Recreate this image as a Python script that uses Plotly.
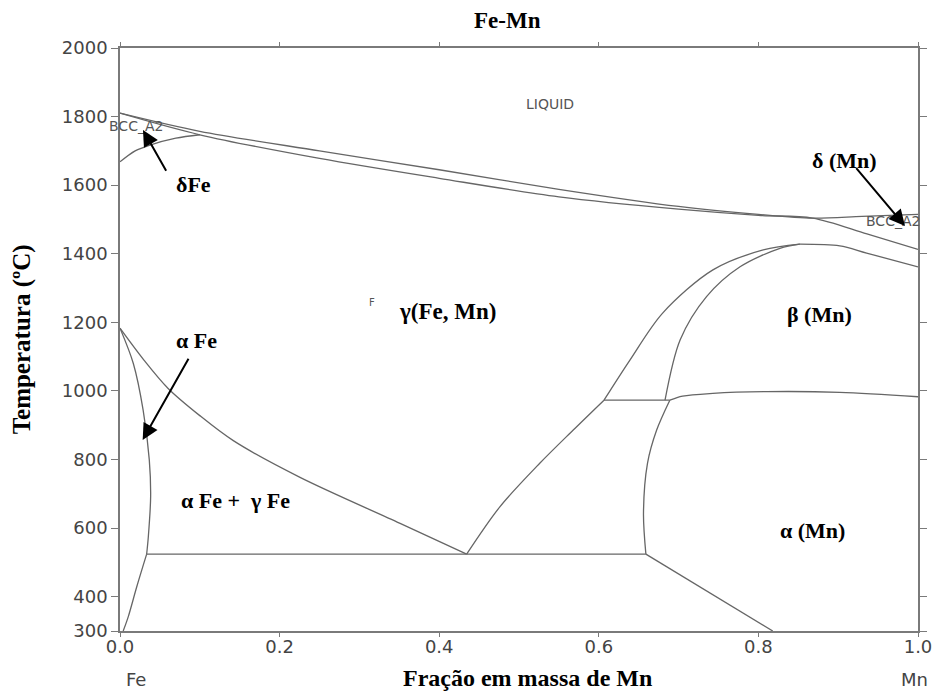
import plotly.graph_objects as go

# ---- data: phase boundaries (mass fraction Mn, temperature in C) ----
liquidus_x = [0.0, 0.1, 0.25, 0.4, 0.55, 0.7, 0.8, 0.868, 0.93, 1.0]
liquidus_T = [1810, 1757, 1700, 1645, 1588, 1538, 1515, 1504, 1509, 1515]

solidus_x = [0.0, 0.1, 0.25, 0.4, 0.55, 0.7, 0.8, 0.868, 0.936, 1.0]
solidus_T = [1810, 1747, 1678, 1620, 1566, 1530, 1512, 1504, 1458, 1413]

delta_x = [0.0, 0.019, 0.0376, 0.07, 0.1]
delta_T = [1668, 1700, 1717, 1737, 1747]

a3_x = [0.0, 0.03, 0.06, 0.1, 0.142, 0.2256, 0.351, 0.4344]
a3_T = [1183, 1090, 1008, 928, 855, 748, 614, 524]

alphaFe_x = [0.0, 0.0167, 0.029, 0.0367, 0.0384, 0.0355, 0.0334]
alphaFe_T = [1183, 1080, 944, 799, 692, 575, 524]

lowFe_x = [0.0334, 0.021, 0.0104, 0.004]
lowFe_T = [524, 429, 342, 300]

eutectoid_x = [0.0334, 0.659]
eutectoid_T = [524, 524]

gamma_aMn_x = [0.4344, 0.476, 0.526, 0.568, 0.6065]
gamma_aMn_T = [524, 662, 789, 886, 973]

h973_x = [0.6065, 0.689]
h973_T = [973, 973]

dome_outer_x = [0.6065, 0.639, 0.680, 0.743, 0.806, 0.852]
dome_outer_T = [973, 1090, 1227, 1353, 1411, 1428]

dome_inner_x = [0.683, 0.702, 0.735, 0.777, 0.827, 0.852]
dome_inner_T = [973, 1149, 1275, 1362, 1416, 1428]

dome_right_x = [0.852, 0.902, 0.9356, 1.0]
dome_right_T = [1428, 1423, 1402, 1362]

beta_aMn_x = [0.689, 0.705, 0.743, 0.81, 0.902, 1.0]
beta_aMn_T = [973, 985, 993, 998, 996, 983]

aMn_left_x = [0.689, 0.6725, 0.661, 0.656, 0.659]
aMn_left_T = [973, 886, 789, 643, 524]

aMn_low_x = [0.659, 0.818]
aMn_low_T = [524, 300]

x_ticks = [0.0, 0.2, 0.4, 0.6, 0.8, 1.0]
y_ticks = [300, 400, 600, 800, 1000, 1200, 1400, 1600, 1800, 2000]

curves = [
    (liquidus_x, liquidus_T), (solidus_x, solidus_T), (delta_x, delta_T),
    (a3_x, a3_T), (alphaFe_x, alphaFe_T), (lowFe_x, lowFe_T),
    (eutectoid_x, eutectoid_T), (gamma_aMn_x, gamma_aMn_T), (h973_x, h973_T),
    (dome_outer_x, dome_outer_T), (dome_inner_x, dome_inner_T),
    (dome_right_x, dome_right_T), (beta_aMn_x, beta_aMn_T),
    (aMn_left_x, aMn_left_T), (aMn_low_x, aMn_low_T),
]

fig = go.Figure()
for cx, cy in curves:
    fig.add_trace(go.Scatter(x=cx, y=cy, mode="lines",
                             line=dict(color="#666666", width=1.3, shape="spline", smoothing=0.9),
                             hoverinfo="skip", showlegend=False))

SERIF = "Liberation Serif, Times New Roman, serif"
SANS = "DejaVu Sans, Arial, sans-serif"

def label(x, y, text, size=22, color="black", family=SERIF, bold=True, ref="data", angle=0):
    t = f"<b>{text}</b>" if bold else text
    r = "" if ref == "data" else " domain"
    fig.add_annotation(x=x, y=y, xref="x" + r, yref="y" + r, text=t, showarrow=False,
                       xanchor="center", yanchor="middle", textangle=angle,
                       font=dict(family=family, size=size, color=color))

def arrow(x0, y0, x1, y1):
    fig.add_annotation(x=x1, y=y1, ax=x0, ay=y0, xref="x", yref="y", axref="x", ayref="y",
                       text="", showarrow=True, arrowhead=2, arrowsize=1.6, arrowwidth=2,
                       arrowcolor="black")

label(0.539, 1837, "LIQUID", size=14, color="#555", family=SANS, bold=False)
label(0.0198, 1772, "BCC_A2", size=14, color="#555", family=SANS, bold=False)
label(0.9687, 1497, "BCC_A2", size=14, color="#555", family=SANS, bold=False)
label(0.3154, 1257, "F", size=10, color="#555", family=SANS, bold=False)

label(0.0927, 1603, "δFe")
arrow(0.0589, 1638, 0.0288, 1761)
label(0.908, 1673, "δ (Mn)")
arrow(0.921, 1654, 0.9837, 1481)
label(0.0961, 1146, "α Fe")
arrow(0.0869, 1098, 0.0284, 857)
label(0.411, 1233, "γ(Fe, Mn)", size=23)
label(0.877, 1224, "β (Mn)")
label(0.1451, 680, "α Fe +  γ Fe")
label(0.868, 592, "α (Mn)")

label(0.511, -0.081, "Fração em massa de Mn", size=24, ref="paper")
label(0.02, -0.083, "Fe", size=18, color="#444", family=SANS, bold=False, ref="paper")
label(0.995, -0.083, "Mn", size=18, color="#444", family=SANS, bold=False, ref="paper")
label(0.485, 1.047, "Fe-Mn", size=23, ref="paper")
label(-0.123, 0.5, "Temperatura (ºC)", size=25, ref="paper", angle=-90)

axis_common = dict(showgrid=False, zeroline=False, showline=True, linecolor="#7a7a7a",
                   linewidth=1.5, mirror="ticks", ticks="outside",
                   tickcolor="#7a7a7a", tickwidth=1.2, ticklabeloverflow="allow",
                   tickfont=dict(family=SANS, size=18, color="#444"))

fig.update_xaxes(range=[0, 1], tickvals=x_ticks, tickformat=".1f", ticklen=4,
                 ticklabelstandoff=-5, **axis_common)
fig.update_yaxes(range=[300, 2000], tickvals=y_ticks, ticklen=7, **axis_common)

fig.update_layout(width=932, height=684, plot_bgcolor="white", paper_bgcolor="white",
                  margin=dict(l=112, r=22, t=40, b=61, autoexpand=False), showlegend=False)

fig.write_html("out.html")
